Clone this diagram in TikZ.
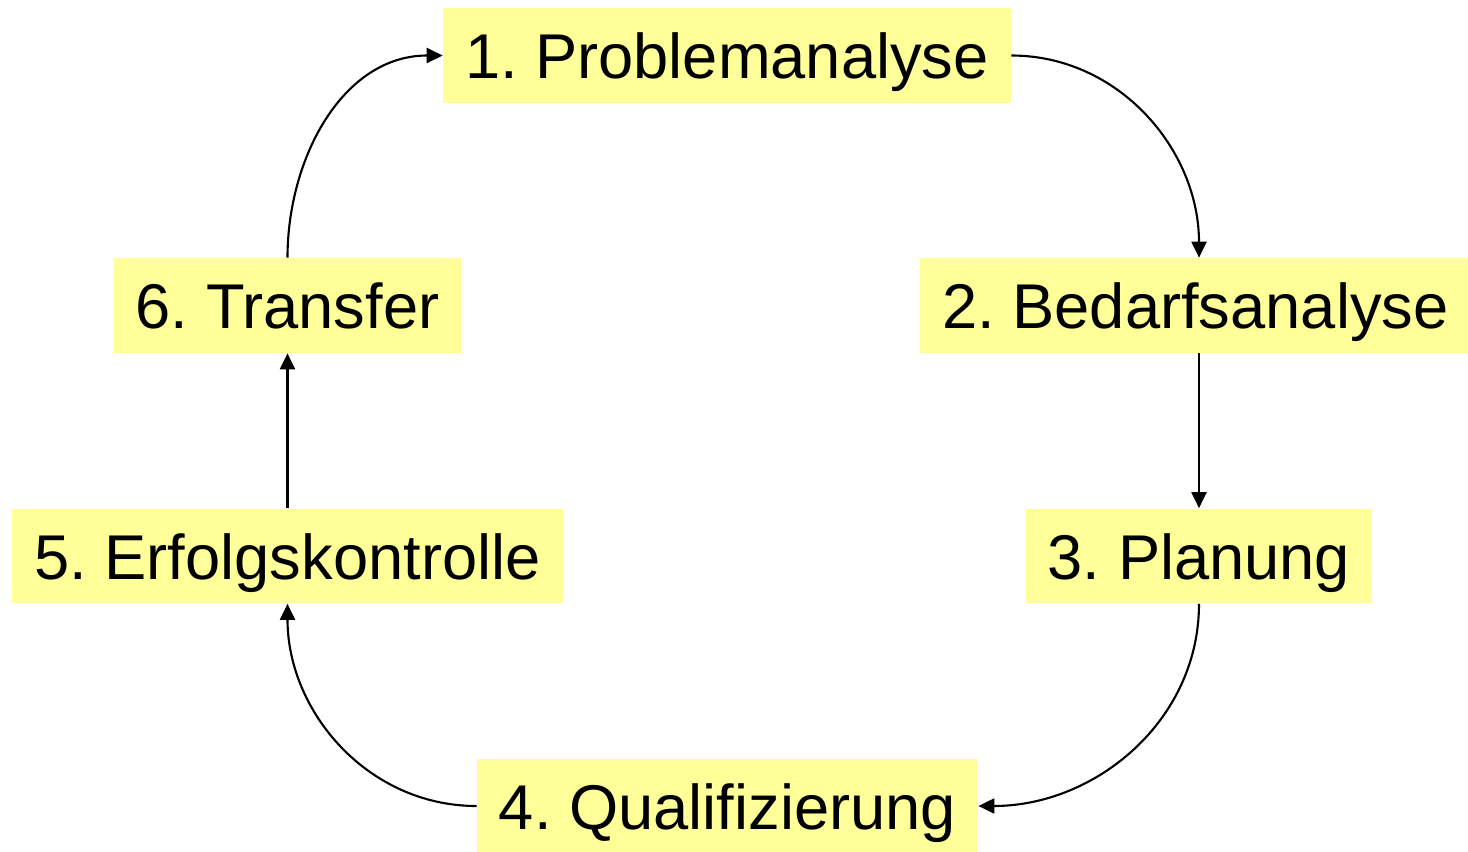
\documentclass[tikz,border=0pt]{standalone}
\usepackage{fontspec}
\setmainfont{Liberation Sans}
\usetikzlibrary{arrows.meta,positioning}
\definecolor{boxyellow}{HTML}{FFFF99}
\frenchspacing

\begin{document}
\begin{tikzpicture}[x=0.02cm,y=-0.02cm,
    stage/.style={fill=boxyellow, inner xsep=0.44cm, inner ysep=0pt,
      minimum height=1.9cm, text height=0.92cm, text depth=0pt,
      font=\fontsize{36}{40}\selectfont},
    flow/.style={-{Triangle[length=0.32cm,width=0.3cm]}, line width=1.2pt}]
  % Rahmen des Bildes
  \useasboundingbox (0,0) rectangle (1468,852);

  % Die sechs Phasen
  \node[stage] (prob) at (727,55.5) {1. Problemanalyse};
  \node[stage] (bedarf) at (1195.5,305.5) {2. Bedarfsanalyse};
  \node[stage] (plan) at (1199,556) {3. Planung};
  \node[stage] (quali) at (727.5,806) {4. Qualifizierung};
  \node[stage] (erfolg) at (287.5,556) {5. Erfolgskontrolle};
  \node[stage] (trans) at (287.5,305.5) {6. Transfer};

  % Der Kreislauf
  \draw[flow] (prob.east) to[out=0,in=90] (plan.north |- bedarf.north);
  \draw[flow] (plan.north |- bedarf.south) -- (plan.north);
  \draw[flow] (plan.south) to[out=-90,in=0] (quali.east);
  \draw[flow] (quali.west) to[out=180,in=-90] (erfolg.south);
  \draw[flow] (erfolg.north) -- (trans.south);
  \draw[flow] (trans.north) to[out=90,in=180] (prob.west);
\end{tikzpicture}
\end{document}
